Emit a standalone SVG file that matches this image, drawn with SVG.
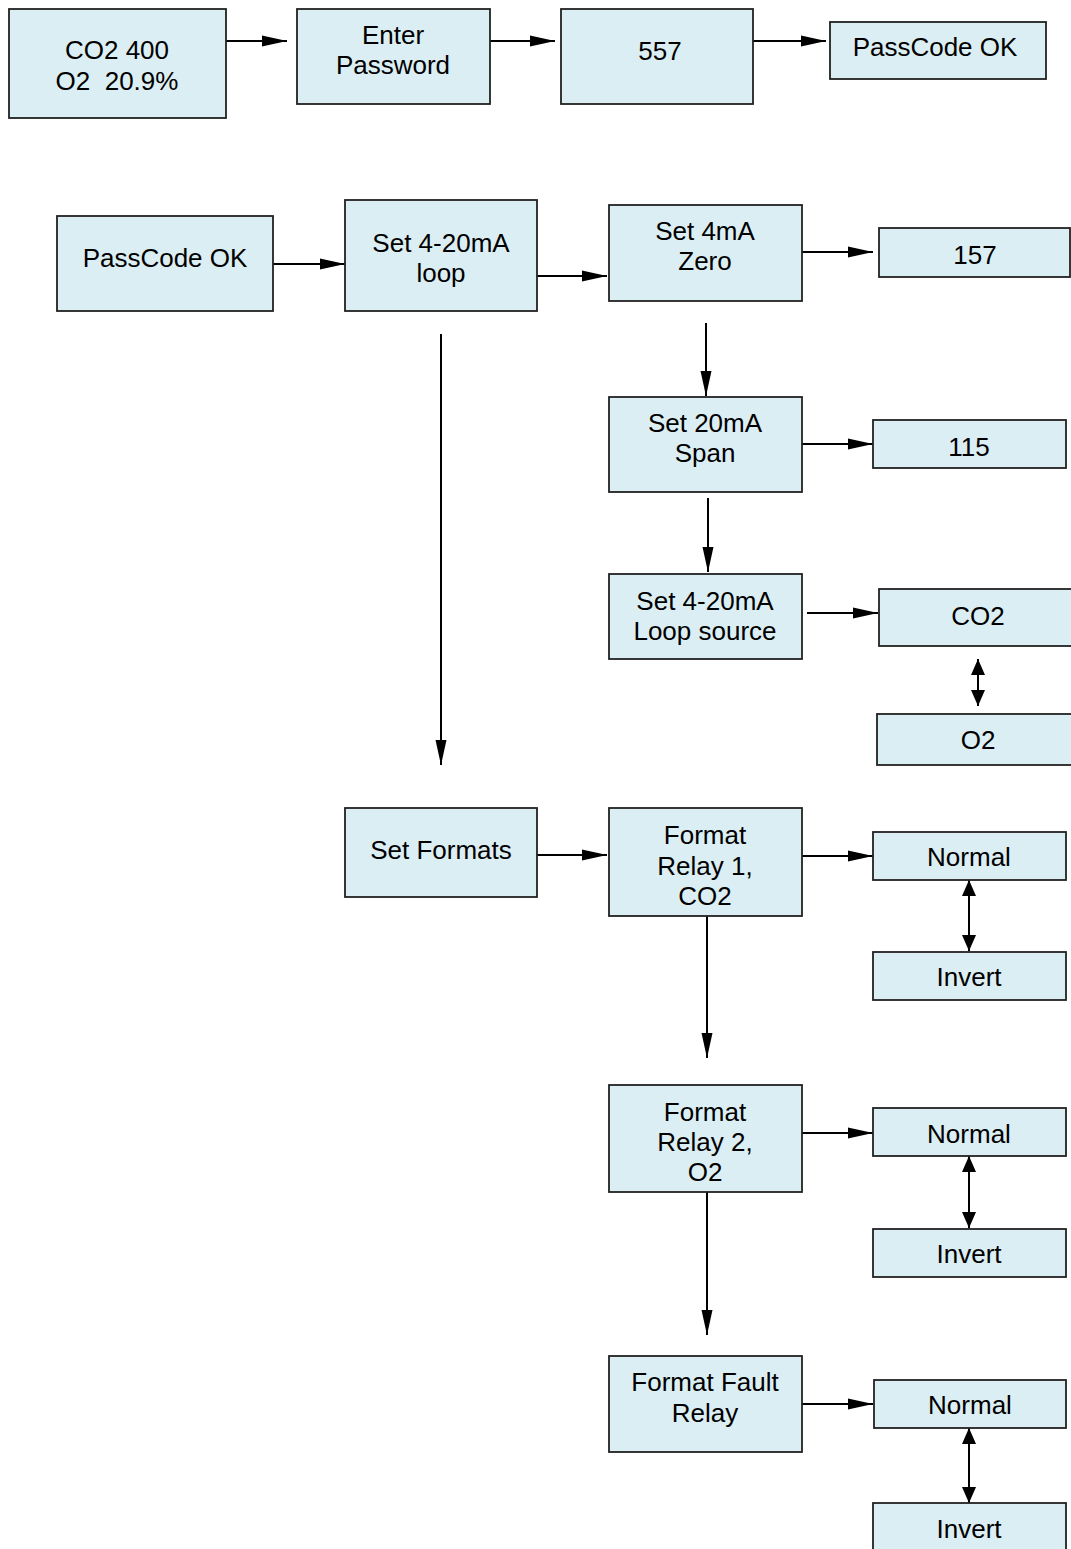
<svg xmlns="http://www.w3.org/2000/svg" width="1071" height="1549" viewBox="0 0 1071 1549">
<style>
.box{fill:#DBEEF3;stroke:#222;stroke-width:1.8}
.t{font-family:"Liberation Sans",Arial,sans-serif;font-size:26px;fill:#000;text-anchor:middle;white-space:pre}
.c{stroke:#000;stroke-width:2;fill:none}
.a{marker-end:url(#arr)}
.d{marker-start:url(#dbl);marker-end:url(#dbl)}
</style>
<defs>
<marker id="arr" markerUnits="userSpaceOnUse" markerWidth="26" markerHeight="12" refX="25" refY="6" orient="auto"><path d="M0,0.5 L25,6 L0,11.5 Z" fill="#000"/></marker>
<marker id="dbl" markerUnits="userSpaceOnUse" markerWidth="16" markerHeight="14" refX="16" refY="7" orient="auto-start-reverse"><path d="M0,0 L16,7 L0,14 Z" fill="#000"/></marker>
</defs>
<rect width="1071" height="1549" fill="#fff"/>
<g id="connectors">
<line class="c a" x1="226" y1="41" x2="287" y2="41"/>
<line class="c a" x1="487" y1="41" x2="555" y2="41"/>
<line class="c a" x1="753" y1="41" x2="826" y2="41"/>
<line class="c a" x1="273" y1="264" x2="345" y2="264"/>
<line class="c a" x1="537" y1="276" x2="607" y2="276"/>
<line class="c a" x1="801" y1="252" x2="873" y2="252"/>
<line class="c a" x1="706" y1="323" x2="706" y2="396"/>
<line class="c a" x1="801" y1="444" x2="873" y2="444"/>
<line class="c a" x1="708" y1="498" x2="708" y2="572"/>
<line class="c a" x1="807" y1="613" x2="878" y2="613"/>
<line class="c d" x1="978" y1="659" x2="978" y2="706"/>
<line class="c a" x1="441" y1="334" x2="441" y2="765"/>
<line class="c a" x1="537" y1="855" x2="607" y2="855"/>
<line class="c a" x1="801" y1="856" x2="873" y2="856"/>
<line class="c d" x1="969" y1="880" x2="969" y2="951"/>
<line class="c a" x1="707" y1="916" x2="707" y2="1058"/>
<line class="c a" x1="801" y1="1133" x2="873" y2="1133"/>
<line class="c d" x1="969" y1="1156" x2="969" y2="1228"/>
<line class="c a" x1="707" y1="1192" x2="707" y2="1335"/>
<line class="c a" x1="801" y1="1404" x2="873" y2="1404"/>
<line class="c d" x1="969" y1="1428" x2="969" y2="1503"/>
</g>
<g id="n1"><rect class="box" x="9" y="9" width="217" height="109"/><text class="t" x="117" y="59">CO2 400</text><text class="t" x="117" y="90">O2  20.9%</text></g>
<g id="n2"><rect class="box" x="297" y="9" width="193" height="95"/><text class="t" x="393" y="44">Enter</text><text class="t" x="393" y="74">Password</text></g>
<g id="n3"><rect class="box" x="561" y="9" width="192" height="95"/><text class="t" x="660" y="60">557</text></g>
<g id="n4"><rect class="box" x="830" y="22" width="216" height="57"/><text class="t" x="935" y="56">PassCode OK</text></g>
<g id="n5"><rect class="box" x="57" y="216" width="216" height="95"/><text class="t" x="165" y="267">PassCode OK</text></g>
<g id="n6"><rect class="box" x="345" y="200" width="192" height="111"/><text class="t" x="441" y="252">Set 4-20mA</text><text class="t" x="441" y="282">loop</text></g>
<g id="n7"><rect class="box" x="609" y="205" width="193" height="96"/><text class="t" x="705" y="240">Set 4mA</text><text class="t" x="705" y="270">Zero</text></g>
<g id="n8"><rect class="box" x="879" y="228" width="191" height="49"/><text class="t" x="975" y="264">157</text></g>
<g id="n9"><rect class="box" x="609" y="397" width="193" height="95"/><text class="t" x="705" y="432">Set 20mA</text><text class="t" x="705" y="462">Span</text></g>
<g id="n10"><rect class="box" x="873" y="420" width="193" height="48"/><text class="t" x="969" y="456">115</text></g>
<g id="n11"><rect class="box" x="609" y="574" width="193" height="85"/><text class="t" x="705" y="610">Set 4-20mA</text><text class="t" x="705" y="640">Loop source</text></g>
<g id="n12"><rect class="box" x="879" y="589" width="193" height="57"/><text class="t" x="978" y="625">CO2</text></g>
<g id="n13"><rect class="box" x="877" y="714" width="195" height="51"/><text class="t" x="978" y="749">O2</text></g>
<g id="n14"><rect class="box" x="345" y="808" width="192" height="89"/><text class="t" x="441" y="859">Set Formats</text></g>
<g id="n15"><rect class="box" x="609" y="808" width="193" height="108"/><text class="t" x="705" y="844">Format</text><text class="t" x="705" y="875">Relay 1,</text><text class="t" x="705" y="905">CO2</text></g>
<g id="n16"><rect class="box" x="873" y="832" width="193" height="48"/><text class="t" x="969" y="866">Normal</text></g>
<g id="n17"><rect class="box" x="873" y="952" width="193" height="48"/><text class="t" x="969" y="986">Invert</text></g>
<g id="n18"><rect class="box" x="609" y="1085" width="193" height="107"/><text class="t" x="705" y="1121">Format</text><text class="t" x="705" y="1151">Relay 2,</text><text class="t" x="705" y="1181">O2</text></g>
<g id="n19"><rect class="box" x="873" y="1108" width="193" height="48"/><text class="t" x="969" y="1143">Normal</text></g>
<g id="n20"><rect class="box" x="873" y="1229" width="193" height="48"/><text class="t" x="969" y="1263">Invert</text></g>
<g id="n21"><rect class="box" x="609" y="1356" width="193" height="96"/><text class="t" x="705" y="1391">Format Fault</text><text class="t" x="705" y="1422">Relay</text></g>
<g id="n22"><rect class="box" x="874" y="1380" width="192" height="48"/><text class="t" x="970" y="1414">Normal</text></g>
<g id="n23"><rect class="box" x="873" y="1503" width="193" height="50"/><text class="t" x="969" y="1538">Invert</text></g>
</svg>
